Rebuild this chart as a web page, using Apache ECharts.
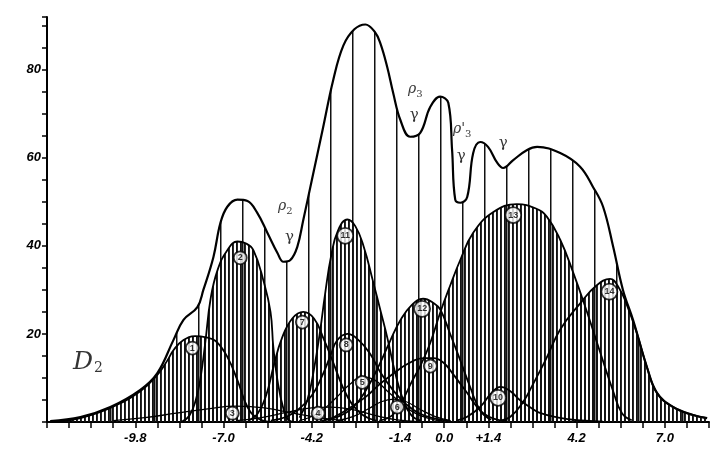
<!DOCTYPE html>
<html>
<head>
<meta charset="utf-8">
<script src="https://cdn.jsdelivr.net/npm/echarts@6/dist/echarts.min.js"></script>
<style>
  html, body { margin: 0; padding: 0; background: #fff; }
  #chart { width: 720px; height: 453px; }
</style>
</head>
<body>
<div id="chart"></div>
<script>
// axis labels
var xTickValues = [-9.8, -7.0, -4.2, -1.4, 0.0, 1.4, 4.2, 7.0];
var xTickText = ['-9.8', '-7.0', '-4.2', '-1.4', '0.0', '+1.4', '4.2', '7.0'];
var yTickValues = [20, 40, 60, 80];

// total curve (envelope)
var envelope = [[-12.5, 0.2], [-11.54, 1.1], [-10.59, 3.4], [-9.64, 7.3], [-9.10, 11.1], [-8.59, 18.6],
    [-8.27, 23.2], [-7.83, 26.1], [-7.64, 30], [-7.32, 37.5], [-7.10, 45.2], [-6.88, 48.9], [-6.56, 50.5],
    [-6.24, 50.2], [-5.93, 47.5], [-5.61, 43], [-5.29, 38.4], [-5.10, 36.4], [-4.88, 36.8], [-4.66, 39.8],
    [-4.47, 45.9], [-4.2, 54.9], [-3.85, 66.6], [-3.52, 77.7], [-3.20, 85.5], [-2.85, 89.2], [-2.5, 90.3],
    [-2.2, 88.6], [-2.03, 86.1], [-1.81, 80.7], [-1.62, 74.8], [-1.39, 68.6], [-1.08, 64.8], [-0.76, 65.7],
    [-0.44, 71.6], [-0.13, 73.9], [0.13, 72.5], [0.25, 61.8], [0.35, 50.5], [0.51, 49.8], [0.73, 51.1],
    [0.92, 61.1], [1.14, 63.6], [1.39, 62.5], [1.68, 58.9], [1.87, 57.7], [2.19, 59.5], [2.63, 61.8],
    [2.95, 62.5], [3.68, 61.1], [4.31, 58], [4.72, 53.4], [5.04, 48.9], [5.36, 39.8], [5.67, 30],
    [5.99, 23.2], [6.43, 12.5], [6.75, 6.6], [7.26, 3.4], [7.89, 1.6], [8.34, 0.9]];

// components
var comp1 = [[-12.3, 0], [-11.54, 0.9], [-10.59, 3.2], [-9.64, 7], [-9.10, 10.7], [-8.78, 14], [-8.59, 16.3],
    [-8.27, 18.6], [-7.9, 19.5], [-7.55, 19.2], [-7.25, 18.4], [-6.88, 14.8], [-6.56, 9.5], [-6.24, 3.4],
    [-5.93, 0.9], [-5.52, 0]];
var comp2 = [[-8.34, 0], [-8.08, 1.5], [-7.88, 5], [-7.73, 10], [-7.58, 18], [-7.41, 28], [-7.19, 34.5],
    [-6.88, 39], [-6.56, 41], [-6.3, 40.6], [-6.05, 39], [-5.73, 32], [-5.51, 25], [-5.42, 17], [-5.29, 9.5],
    [-5.10, 3], [-4.94, 0.5], [-4.7, 0]];
var comp3 = [[-10.5, 0.3], [-9.5, 1], [-8.5, 2], [-7.5, 3], [-6.6, 3.6], [-5.7, 3.2], [-4.8, 2], [-4.0, 1],
    [-3.2, 0.3]];
var comp4 = [[-6.6, 0.3], [-5.8, 1], [-5.0, 2.2], [-4.2, 3.2], [-3.6, 3.4], [-2.9, 2.8], [-2.2, 1.5],
    [-1.5, 0.5], [-0.8, 0.1]];
var comp5 = [[-4.6, 0.3], [-4.0, 2], [-3.5, 5], [-3.0, 8.5], [-2.6, 10.3], [-2.2, 9.5], [-1.8, 7],
    [-1.4, 4.5], [-1.0, 2.3], [-0.5, 0.8], [0.0, 0.2]];
var comp6 = [[-3.4, 0.3], [-2.9, 1.2], [-2.4, 3], [-2.0, 4.6], [-1.6, 5.2], [-1.2, 4.6], [-0.8, 3],
    [-0.3, 1.3], [0.2, 0.3]];
var comp7 = [[-6.21, 0.3], [-5.91, 2], [-5.65, 6], [-5.4, 13], [-5.15, 19], [-4.82, 23.5], [-4.47, 25],
    [-4.13, 23.5], [-3.83, 19], [-3.52, 13.5], [-3.22, 8], [-2.92, 4], [-2.56, 1.5], [-2.16, 0.3]];
var comp8 = [[-5.5, 0.3], [-5.0, 1.2], [-4.6, 3], [-4.2, 6], [-3.9, 10], [-3.61, 15], [-3.4, 18.5],
    [-3.07, 20], [-2.7, 18.5], [-2.35, 15.5], [-2.0, 11], [-1.6, 7], [-1.2, 4], [-0.8, 2], [-0.3, 0.8],
    [0.2, 0.2]];
var comp9 = [[-3.68, 0.5], [-3.27, 2], [-2.87, 3.8], [-2.44, 6], [-2.06, 8.5], [-1.61, 11], [-1.14, 13.3],
    [-0.64, 14.5], [-0.34, 14.5], [-0.03, 13.5], [0.27, 11], [0.53, 8.5], [0.73, 6.6], [0.98, 4],
    [1.24, 2], [1.59, 0.7], [1.99, 0.2]];
var comp10 = [[0.38, 0.3], [0.73, 1.2], [1.15, 3.5], [1.49, 6.5], [1.79, 8], [2.10, 7], [2.40, 5],
    [2.76, 3.2], [3.06, 2], [3.62, 1], [4.22, 0.4], [5.04, 0.1]];
var comp11 = [[-4.59, 1], [-4.34, 5], [-4.13, 12], [-3.93, 21], [-3.78, 29], [-3.58, 38], [-3.37, 43.5],
    [-3.07, 46], [-2.82, 44.5], [-2.56, 40], [-2.26, 32], [-2.01, 25], [-1.80, 19], [-1.55, 11],
    [-1.30, 5], [-1.04, 1.5], [-0.74, 0.3]];
var comp12 = [[-3.88, 0.3], [-3.37, 1.2], [-2.87, 3.5], [-2.46, 7.5], [-2.06, 13], [-1.71, 18.5],
    [-1.40, 23], [-1.04, 26.5], [-0.67, 28], [-0.33, 27], [-0.12, 25.5], [0.19, 20], [0.51, 14],
    [0.82, 8], [1.15, 2.5], [1.49, 0.5]];
var comp13 = [[-2.06, 0.3], [-1.65, 1.5], [-1.35, 4.5], [-1.04, 9], [-0.74, 13], [-0.44, 18], [-0.12, 25],
    [0.19, 31], [0.51, 36.8], [0.92, 43], [1.56, 47.7], [2.30, 49.5], [2.91, 48.5], [3.26, 46.6],
    [3.68, 41.4], [4.09, 34], [4.53, 25], [4.94, 16], [5.36, 7], [5.64, 2], [5.95, 0.4]];
var comp14 = [[1.79, 0.3], [2.10, 1.2], [2.50, 4.5], [2.81, 8.5], [3.21, 14], [3.68, 21], [4.32, 27],
    [4.83, 31], [5.26, 32.5], [5.54, 30.5], [5.80, 26.5], [6.12, 20], [6.43, 12.5], [6.75, 6.6],
    [7.26, 3.4], [7.89, 1.6], [8.34, 0.9]];

// circled component numbers [x, y, text]
var compLabels = [[-7.99, 16.8, '1'], [-6.47, 37.3, '2'], [-6.72, 2, '3'], [-4.0, 2, '4'], [-2.6, 9, '5'],
    [-1.49, 3.4, '6'], [-4.5, 22.7, '7'], [-3.11, 17.5, '8'], [-0.44, 12.7, '9'], [1.71, 5.5, '10'],
    [-3.14, 42.3, '11'], [-0.7, 25.7, '12'], [2.19, 47, '13'], [5.24, 29.6, '14']];

// annotations [x, y, text]
var notes = [[-5.04, 48.9, '{r|ρ}{s|2}'], [-4.91, 42, '{g|γ}'], [-0.92, 75.5, '{r|ρ}{s|3}'],
    [-0.95, 69.8, '{g|γ}'], [0.57, 66.4, "{r|ρ'}{s|3}"], [0.54, 60.5, '{g|γ}'], [1.87, 63.4, '{g|γ}'],
    [-11.3, 13.5, '{d|D}{t|2}']];

function stripes(period, ink) {
    var c = document.createElement('canvas');
    c.width = period;
    c.height = 8;
    var ctx = c.getContext('2d');
    ctx.fillStyle = '#111';
    ctx.fillRect(0, 0, ink, 8);
    return c;
}

var denseFill = {image: stripes(4, 1.9), repeat: 'repeat'};
var sparseFill = {image: stripes(22, 1.5), repeat: 'repeat'};

var comps = [comp1, comp2, comp3, comp4, comp5, comp6, comp7, comp8, comp9, comp10, comp11, comp12, comp13, comp14];

var series = [];
series.push({
    name: 'total',
    type: 'line',
    data: envelope,
    smooth: 0.4,
    symbol: 'none',
    z: 1,
    lineStyle: {color: '#000', width: 2.2},
    areaStyle: {color: sparseFill, opacity: 1}
});
for (var i = 0; i < comps.length; i++) {
    var big = [0, 1, 6, 7, 8, 9, 10, 11, 12, 13].indexOf(i) >= 0;
    series.push({
        name: 'c' + (i + 1),
        type: 'line',
        data: comps[i],
        smooth: 0.45,
        symbol: 'none',
        z: 2,
        lineStyle: {color: '#000', width: big ? 1.8 : 1.3},
        areaStyle: {color: denseFill, opacity: 1}
    });
}
series.push({
    name: 'numbers',
    type: 'scatter',
    data: compLabels,
    z: 5,
    symbol: 'circle',
    symbolSize: function (v) { return v[2].length > 1 ? 16 : 13; },
    itemStyle: {color: '#fff', borderColor: '#000', borderWidth: 1.8},
    label: {
        show: true,
        position: 'inside',
        formatter: function (p) { return p.value[2]; },
        color: '#000',
        fontSize: 9,
        fontWeight: 'bold',
        fontFamily: 'Liberation Sans'
    }
});
series.push({
    name: 'notes',
    type: 'scatter',
    data: notes,
    z: 5,
    symbolSize: 0,
    label: {
        show: true,
        position: 'inside',
        formatter: function (p) { return p.value[2]; },
        rich: {
            r: {fontFamily: 'DejaVu Serif', fontStyle: 'italic', fontSize: 14, color: '#000'},
            s: {fontFamily: 'DejaVu Serif', fontSize: 10, color: '#000', padding: [10, 0, 0, 0]},
            g: {fontFamily: 'DejaVu Serif', fontSize: 15, color: '#000'},
            d: {fontFamily: 'DejaVu Serif', fontStyle: 'italic', fontSize: 25, color: '#000'},
            t: {fontFamily: 'DejaVu Serif', fontSize: 14, color: '#000', padding: [12, 0, 0, 1]}
        }
    }
});

var myChart = echarts.init(document.getElementById('chart'), null, {renderer: 'canvas'});
var option = {
    backgroundColor: '#fff',
    animation: false,
    grid: {left: 47, right: 11, top: 17, bottom: 31},
    xAxis: {
        type: 'value',
        min: -12.6,
        max: 8.4,
        interval: 0.7,
        splitLine: {show: false},
        axisLine: {lineStyle: {color: '#000', width: 2}},
        axisTick: {length: 6, lineStyle: {color: '#000', width: 1.5}},
        axisLabel: {
            margin: 10,
            color: '#000',
            fontSize: 13,
            fontStyle: 'italic',
            fontWeight: 'bold',
            fontFamily: 'Liberation Sans',
            formatter: function (v) {
                for (var k = 0; k < xTickValues.length; k++) {
                    if (Math.abs(v - xTickValues[k]) < 0.01) return xTickText[k];
                }
                return '';
            }
        }
    },
    yAxis: {
        type: 'value',
        min: 0,
        max: 92,
        interval: 5,
        splitLine: {show: false},
        axisLine: {show: true, onZero: false, lineStyle: {color: '#000', width: 2}},
        axisTick: {show: true, length: 5, lineStyle: {color: '#000', width: 1.5}},
        axisLabel: {
            margin: 6,
            color: '#000',
            fontSize: 13,
            fontStyle: 'italic',
            fontWeight: 'bold',
            fontFamily: 'Liberation Sans',
            formatter: function (v) {
                return yTickValues.indexOf(Math.round(v)) >= 0 ? String(Math.round(v)) : '';
            }
        }
    },
    series: series
};
if (option && typeof option === "object") {
    myChart.setOption(option, true);
}
</script>
</body>
</html>
